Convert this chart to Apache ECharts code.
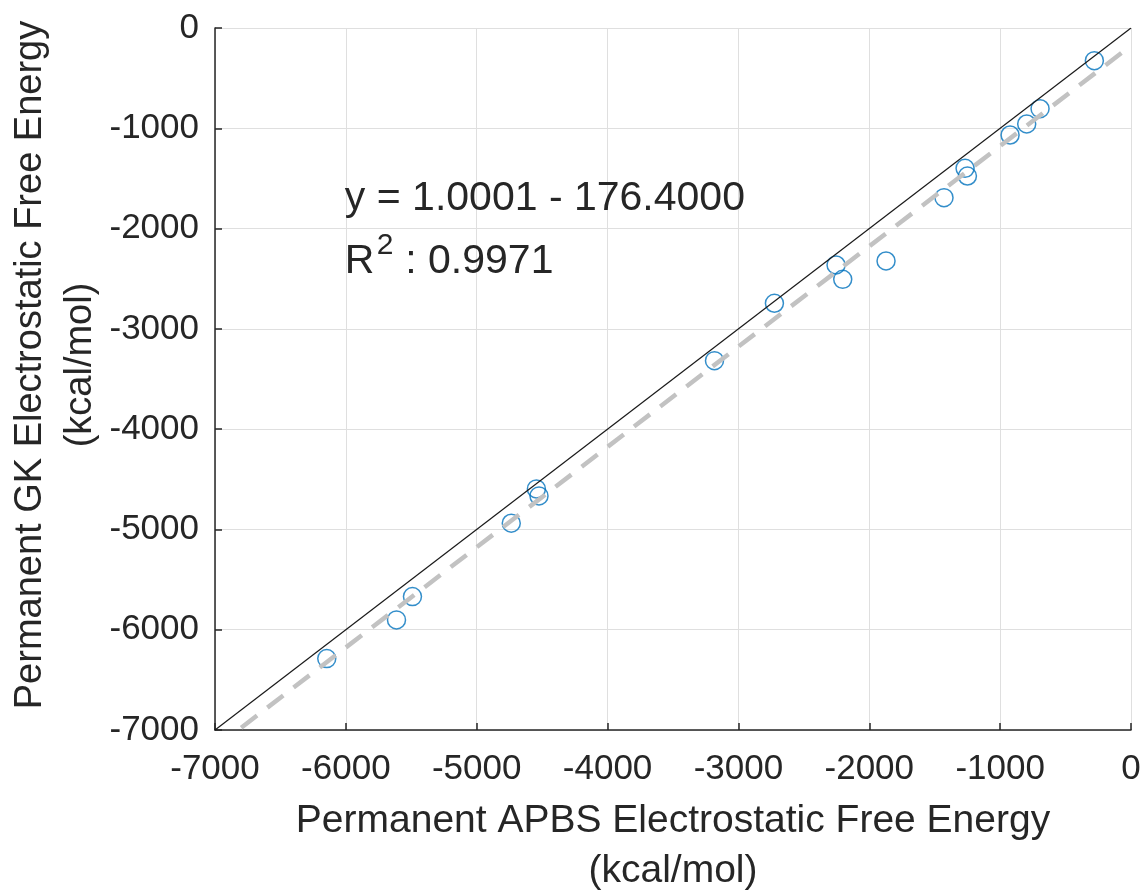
<!DOCTYPE html>
<html>
<head>
<meta charset="utf-8">
<script src="https://cdn.jsdelivr.net/npm/echarts@6/dist/echarts.min.js"></script>
<style>
html,body{margin:0;padding:0;background:#fff;}
#chart{width:1142px;height:892px;}
</style>
</head>
<body>
<div id="chart"></div>
<script>
// Data
const apbsValues = [-280, -695, -797, -924, -1268, -1250, -1429, -2254, -2203, -1872, -2725, -3183, -4544, -4524, -4736, -5491, -5613, -6146];
const gkValues   = [-326, -805, -957, -1067, -1399, -1476, -1692, -2363, -2506, -2323, -2745, -3317, -4596, -4666, -4938, -5670, -5902, -6288];
const axisRange = [-7000, 0];
const tickStep = 1000;
const fitSlope = 1.0001;
const fitIntercept = -176.4;
const fitR2 = 0.9971;
const annotationAnchor = [-6000, -2000];
const xTitle = 'Permanent APBS Electrostatic Free Energy\n(kcal/mol)';
const yTitle = 'Permanent GK Electrostatic Free Energy\n(kcal/mol)';

const FONT = "'Liberation Sans', Arial, Helvetica, sans-serif";
const TXT = '#262626';

const points = apbsValues.map((x, i) => [x, gkValues[i]]);
const identity = [[axisRange[0], axisRange[0]], [axisRange[1], axisRange[1]]];
const fitLine = [[axisRange[0], fitSlope * axisRange[0] + fitIntercept], [axisRange[1], fitSlope * axisRange[1] + fitIntercept]];

function axisCommon(name, labelMargin, nameGap, extraNameStyle) {
  return {
    type: 'value',
    min: axisRange[0], max: axisRange[1], interval: tickStep,
    name: name,
    nameLocation: 'middle',
    nameGap: nameGap,
    nameMoveOverlap: false,
    nameTextStyle: Object.assign({fontFamily: FONT, fontSize: 39, lineHeight: 50, color: TXT}, extraNameStyle || {}),
    axisLine: {show: true, onZero: false, lineStyle: {color: TXT, width: 1.5}},
    axisTick: {show: true, inside: true, length: 7, lineStyle: {color: TXT, width: 1.5}},
    axisLabel: {fontFamily: FONT, fontSize: 35, color: TXT, margin: labelMargin, showMinLabel: true, showMaxLabel: true, hideOverlap: false,
      formatter: v => String(v)},
    splitLine: {show: true, lineStyle: {color: '#dfdfdf', width: 1}}
  };
}

const chart = echarts.init(document.getElementById('chart'), null, {renderer: 'canvas'});
chart.setOption({
  animation: false,
  backgroundColor: '#ffffff',
  grid: {left: 215, right: 11, top: 28, bottom: 162, containLabel: false, outerBoundsMode: 'none'},
  xAxis: axisCommon(xTitle, 22, 66),
  yAxis: axisCommon(yTitle, 16, 109, {fontSize: 38, padding: [0, 0, 0, 28]}),
  series: [
    {
      type: 'scatter',
      data: points,
      symbol: 'circle',
      symbolSize: 18,
      itemStyle: {color: 'rgba(0,0,0,0)', borderColor: '#0072BD', borderWidth: 1.5},
      z: 2
    },
    {
      type: 'line',
      data: fitLine,
      showSymbol: false,
      clip: true,
      lineStyle: {color: '#c2c2c2', width: 4.5, type: [20, 13]},
      z: 3
    },
    {
      type: 'line',
      data: identity,
      showSymbol: false,
      clip: true,
      lineStyle: {color: '#1a1a1a', width: 1.2},
      z: 4
    }
  ]
});

const p = chart.convertToPixel({gridIndex: 0}, annotationAnchor);
const eqText = 'y = ' + fitSlope.toFixed(4) + ' - ' + Math.abs(fitIntercept).toFixed(4);
chart.setOption({
  graphic: [
    {type: 'text', z: 100, style: {text: eqText, x: p[0] - 1, y: p[1] - 30, font: '41px ' + FONT, fill: TXT, textVerticalAlign: 'middle', verticalAlign: 'middle'}},
    {type: 'text', z: 100, style: {text: 'R', x: p[0] - 1, y: p[1] + 33, font: '41px ' + FONT, fill: TXT, textVerticalAlign: 'middle', verticalAlign: 'middle'}},
    {type: 'text', z: 100, style: {text: '2', x: p[0] + 31, y: p[1] + 17, font: '30px ' + FONT, fill: TXT, textVerticalAlign: 'middle', verticalAlign: 'middle'}},
    {type: 'text', z: 100, style: {text: ' : ' + fitR2.toFixed(4), x: p[0] + 48, y: p[1] + 33, font: '41px ' + FONT, fill: TXT, textVerticalAlign: 'middle', verticalAlign: 'middle'}}
  ]
});
</script>
</body>
</html>
